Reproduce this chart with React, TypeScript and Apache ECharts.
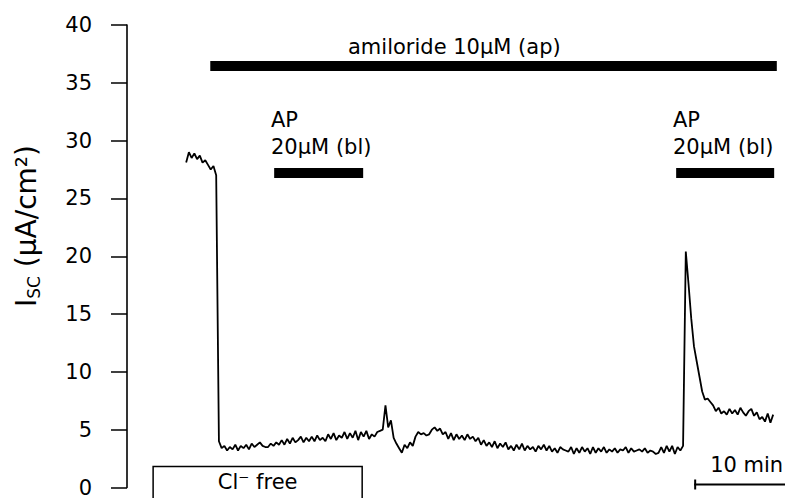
import React, { useEffect, useRef } from "react";
import * as echarts from "echarts";

// ---- data ----
const SAMPLE_STEP_MIN = 0.3; // minutes between samples
const iscValues = [
  28.1, 29.0, 28.5, 28.9, 28.4, 28.7, 28.1, 28.3, 27.9, 27.5, 27.8, 27.0,
  4.0, 3.4, 3.6, 3.2, 3.5, 3.3, 3.7, 3.2, 3.6, 3.4, 3.7, 3.3, 3.8, 3.5, 3.7, 3.9, 3.6, 3.5,
  3.5, 3.8, 3.6, 3.9, 3.7, 4.1, 3.7, 4.2, 3.8, 4.3, 3.9, 4.1, 4.4, 3.9, 4.3, 4.0, 4.4, 4.0,
  4.5, 4.1, 4.3, 4.0, 4.6, 4.2, 4.7, 4.1, 4.5, 4.3, 4.8, 4.2, 4.7, 4.3, 4.9, 4.1, 4.8, 4.4,
  4.9, 4.2, 4.6, 4.4, 4.8, 4.9, 5.0,
  7.1, 5.2, 5.8, 4.3, 3.8, 3.4, 3.0, 3.7, 3.4, 3.9, 3.6, 4.4, 4.8, 4.6, 4.7, 4.5, 4.6, 5.0,
  5.2, 4.9, 5.1, 4.6, 4.8, 4.2, 4.7, 4.1, 4.6, 4.2, 4.5, 4.1, 4.6, 4.2, 4.4, 4.0, 4.3, 3.7,
  4.1, 3.6, 3.9, 3.5, 4.0, 3.4, 3.8, 3.5, 3.9, 3.3, 3.6, 3.2, 3.7, 3.3, 3.8, 3.2, 3.6, 3.3,
  3.5, 3.1, 3.6,
  3.3, 3.7, 3.2, 3.6, 3.1, 3.4, 3.0, 3.5, 3.3, 3.2, 3.1, 3.5, 2.9, 3.4, 3.0, 3.5, 3.1, 3.4,
  2.9, 3.5, 3.0, 3.4, 3.1, 3.5, 3.0, 3.3, 3.1, 3.4, 3.0, 3.3, 3.2, 3.5, 3.0, 3.4, 3.1, 3.2,
  3.3, 3.1, 3.4, 3.0, 3.2, 3.1, 2.9, 3.0, 3.5, 3.0, 3.6, 3.1, 3.6, 2.9, 3.5, 3.2, 3.6,
  20.4, 17.6, 14.6, 12.2, 10.9, 9.6, 8.3, 7.6, 7.7, 7.4, 7.1, 6.6, 6.9, 6.4, 6.6, 6.3, 6.8,
  6.4, 6.7, 6.3, 6.9, 6.5, 6.2, 6.6, 6.8, 6.2, 6.5, 5.9, 6.1, 5.7, 6.4, 5.6, 6.3,
];

const treatmentLabels = ["amiloride 10µM (ap)", "AP", "AP"];
const treatmentSubLabels = ["", "20µM (bl)", "20µM (bl)"];
const treatmentStart = [2.65, 9.67, 53.84];
const treatmentEnd = [64.9, 19.45, 64.61];
const treatmentLevel = [36.45, 27.2, 27.2];

const clFreeStart = [-3.63];
const clFreeEnd = [19.34];
const clFreeTop = [1.81];
const clFreeLabel = ["Cl⁻ free"];

const scaleBarStart = [55.82];
const scaleBarLength = [10];
const scaleBarLevel = [0.26];
const scaleBarLabel = ["10 min"];

const yTicks = { min: 0, max: 40, interval: 5 };

const FONT = "DejaVu Sans";

export default function App() {
  const ref = useRef<HTMLDivElement>(null);

  useEffect(() => {
    if (!ref.current) return;
    const chart = echarts.init(ref.current, undefined, { renderer: "svg" });

    const traceData = iscValues.map((v, i) => [+(i * SAMPLE_STEP_MIN).toFixed(2), v]);
    const treatmentData = treatmentStart.map((s, i) => [s, treatmentEnd[i], treatmentLevel[i], i]);
    const clData = clFreeStart.map((s, i) => [s, clFreeEnd[i], clFreeTop[i], -1.2, i]);
    const scaleData = scaleBarStart.map((s, i) => [s, s + scaleBarLength[i], scaleBarLevel[i], i]);

    const option: any = {
      animation: false,
      backgroundColor: "#ffffff",
      grid: { left: 127, right: 0, top: 25, bottom: 8 },
      xAxis: { type: "value", min: -6.5, max: 65.8, show: false },
      yAxis: {
        type: "value",
        min: yTicks.min,
        max: yTicks.max,
        interval: yTicks.interval,
        axisLine: { show: true, onZero: false, lineStyle: { color: "#000", width: 1.6 } },
        axisTick: { show: true, length: 16, lineStyle: { color: "#000", width: 1.5 } },
        splitLine: { show: false },
        axisLabel: { color: "#000", fontSize: 21, fontFamily: FONT, margin: 35 },
      },
      graphic: [
        {
          type: "text",
          x: 26,
          y: 226,
          rotation: Math.PI / 2,
          style: {
            text: "{i|I}{s|SC}{t| (µA/cm²)}",
            align: "center",
            verticalAlign: "middle",
            rich: {
              i: { fontSize: 28, fontFamily: FONT, fill: "#000", lineHeight: 32 },
              s: { fontSize: 17, fontFamily: FONT, fill: "#000", lineHeight: 32, verticalAlign: "bottom", padding: [11, 0, 0, 0] },
              t: { fontSize: 28, fontFamily: FONT, fill: "#000", lineHeight: 32 },
            },
          },
        },
        {
          type: "text",
          x: 348,
          y: 47,
          style: { text: treatmentLabels[0], fontSize: 21, fontFamily: FONT, fill: "#000", align: "left", verticalAlign: "middle" },
        },
        {
          type: "text",
          x: 271,
          y: 120,
          style: { text: treatmentLabels[1], fontSize: 21, fontFamily: FONT, fill: "#000", align: "left", verticalAlign: "middle" },
        },
        {
          type: "text",
          x: 271,
          y: 147,
          style: { text: treatmentSubLabels[1], fontSize: 21, fontFamily: FONT, fill: "#000", align: "left", verticalAlign: "middle" },
        },
        {
          type: "text",
          x: 673,
          y: 120,
          style: { text: treatmentLabels[2], fontSize: 21, fontFamily: FONT, fill: "#000", align: "left", verticalAlign: "middle" },
        },
        {
          type: "text",
          x: 673,
          y: 147,
          style: { text: treatmentSubLabels[2], fontSize: 21, fontFamily: FONT, fill: "#000", align: "left", verticalAlign: "middle" },
        },
      ],
      series: [
        {
          type: "line",
          data: traceData,
          showSymbol: false,
          symbol: "none",
          lineStyle: { color: "#000", width: 1.8 },
          z: 5,
        },
        {
          type: "custom",
          clip: false,
          encode: { x: [0, 1], y: 2 },
          data: treatmentData,
          renderItem: (params: any, api: any) => {
            const s = api.coord([api.value(0), api.value(2)]);
            const e = api.coord([api.value(1), api.value(2)]);
            return {
              type: "rect",
              shape: { x: s[0], y: s[1] - 5, width: e[0] - s[0], height: 10 },
              style: { fill: "#000" },
            };
          },
        },
        {
          type: "custom",
          clip: false,
          encode: { x: [0, 1], y: [2, 3] },
          data: clData,
          renderItem: (params: any, api: any) => {
            const tl = api.coord([api.value(0), api.value(2)]);
            const br = api.coord([api.value(1), api.value(3)]);
            const idx = api.value(4);
            return {
              type: "group",
              children: [
                {
                  type: "rect",
                  shape: { x: tl[0], y: tl[1], width: br[0] - tl[0], height: br[1] - tl[1] },
                  style: { fill: "none", stroke: "#000", lineWidth: 1.5 },
                },
                {
                  type: "text",
                  x: (tl[0] + br[0]) / 2,
                  y: tl[1] + 15,
                  style: {
                    text: clFreeLabel[idx],
                    fontSize: 21,
                    fontFamily: FONT,
                    fill: "#000",
                    align: "center",
                    verticalAlign: "middle",
                  },
                },
              ],
            };
          },
        },
        {
          type: "custom",
          clip: false,
          encode: { x: [0, 1], y: 2 },
          data: scaleData,
          renderItem: (params: any, api: any) => {
            const s = api.coord([api.value(0), api.value(2)]);
            const e = api.coord([api.value(1), api.value(2)]);
            const idx = api.value(3);
            return {
              type: "group",
              children: [
                {
                  type: "line",
                  shape: { x1: s[0], y1: s[1], x2: e[0], y2: e[1] },
                  style: { stroke: "#000", lineWidth: 2 },
                },
                {
                  type: "line",
                  shape: { x1: s[0] + 1, y1: s[1] - 5, x2: s[0] + 1, y2: s[1] + 5 },
                  style: { stroke: "#000", lineWidth: 2 },
                },
                {
                  type: "text",
                  x: e[0] - 2,
                  y: s[1] - 19,
                  style: {
                    text: scaleBarLabel[idx],
                    fontSize: 21,
                    fontFamily: FONT,
                    fill: "#000",
                    align: "right",
                    verticalAlign: "middle",
                  },
                },
              ],
            };
          },
        },
      ],
    };

    chart.setOption(option);
    return () => chart.dispose();
  }, []);

  return (
    <div
      ref={ref}
      style={{ position: "fixed", left: 0, top: 0, width: 785, height: 498, background: "#fff" }}
    />
  );
}
